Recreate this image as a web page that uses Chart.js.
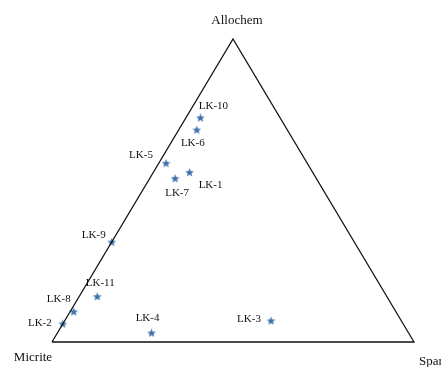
<!DOCTYPE html>
<html>
<head>
<meta charset="utf-8">
<script src="https://cdn.jsdelivr.net/npm/chart.js@4.4.0/dist/chart.umd.min.js"></script>
<style>
  html, body { margin: 0; padding: 0; background: #fff; }
  #wrap { width: 441px; height: 367px; }
</style>
</head>
<body>
<div id="wrap"><canvas id="ternary" width="441" height="367"></canvas></div>
<script>
// Muestras y composiciones (%)
const samples   = ['LK-1', 'LK-2', 'LK-3', 'LK-4', 'LK-5', 'LK-6', 'LK-7', 'LK-8', 'LK-9', 'LK-10', 'LK-11'];
const allochem  = [56, 6, 7, 3, 59, 70, 54, 10, 33, 74, 15];
const spar      = [10, 0, 57, 26, 2, 5, 7, 1, 0, 4, 5];
const micrite   = [34, 94, 36, 71, 39, 25, 39, 89, 67, 22, 80];
const vertexLabels = ['Allochem', 'Micrite', 'Spar'];

// desplazamiento de cada etiqueta respecto al punto (px)
const labelOffsets = [[21, 13], [-23, -1], [-22, -2], [-4, -15], [-25, -8], [-4, 13], [2, 15], [-15, -13], [-18, -7], [13, -12], [3, -13]];

// coordenadas cartesianas del diagrama ternario
function toXY(a, s, m) {
    const t = a + s + m;
    return { x: (s + a / 2) / t, y: a / t };
}
const points = samples.map((name, i) => toXY(allochem[i], spar[i], micrite[i]));
const corners = [toXY(0, 0, 100), toXY(0, 100, 0), toXY(100, 0, 0), toXY(0, 0, 100)];

// estrella rellena de 5 puntas
function makeStar(size, color) {
    const c = document.createElement('canvas');
    c.width = size; c.height = size;
    const g = c.getContext('2d');
    const cx = size / 2, cy = size / 2 + 0.3, R = size / 2, r = R * 0.45;
    g.beginPath();
    for (let k = 0; k < 10; k++) {
        const rad = k % 2 === 0 ? R : r;
        const ang = -Math.PI / 2 + k * Math.PI / 5;
        g.lineTo(cx + rad * Math.cos(ang), cy + rad * Math.sin(ang));
    }
    g.closePath();
    g.fillStyle = color;
    g.fill();
    return c;
}
const star = makeStar(9, '#3f72ad');

const labelPlugin = {
    id: 'ternaryLabels',
    afterDatasetsDraw(chart) {
        const ctx = chart.ctx;
        const meta = chart.getDatasetMeta(1);
        ctx.save();
        ctx.fillStyle = '#111';
        ctx.textAlign = 'center';
        ctx.textBaseline = 'middle';
        ctx.font = '11px "Liberation Serif", "Times New Roman", serif';
        meta.data.forEach((el, i) => {
            ctx.fillText(samples[i], el.x + labelOffsets[i][0], el.y + labelOffsets[i][1]);
        });
        // vértices
        const tri = chart.getDatasetMeta(0).data;
        ctx.font = '13px "Liberation Serif", "Times New Roman", serif';
        ctx.fillText(vertexLabels[0], tri[2].x + 4, tri[2].y - 18);
        ctx.fillText(vertexLabels[1], tri[0].x - 19, tri[0].y + 16);
        ctx.textAlign = 'left';
        ctx.fillText(vertexLabels[2], tri[1].x + 5, tri[1].y + 20);
        ctx.restore();
    }
};

new Chart(document.getElementById('ternary'), {
    type: 'scatter',
    data: {
        datasets: [
            {
                label: 'triangle',
                data: corners,
                showLine: true,
                borderColor: '#111',
                borderWidth: 1.3,
                pointRadius: 0,
                fill: false,
                clip: false
            },
            {
                label: 'Muestras',
                data: points,
                pointStyle: star,
                pointRadius: 4.5,
                clip: false
            }
        ]
    },
    options: {
        responsive: false,
        animation: false,
        layout: { padding: { left: 52, right: 27, top: 39, bottom: 25 } },
        scales: {
            x: { type: 'linear', min: 0, max: 1, display: false },
            y: { type: 'linear', min: 0, max: 1, display: false }
        },
        plugins: {
            legend: { display: false },
            tooltip: { enabled: false }
        }
    },
    plugins: [labelPlugin]
});
</script>
</body>
</html>
